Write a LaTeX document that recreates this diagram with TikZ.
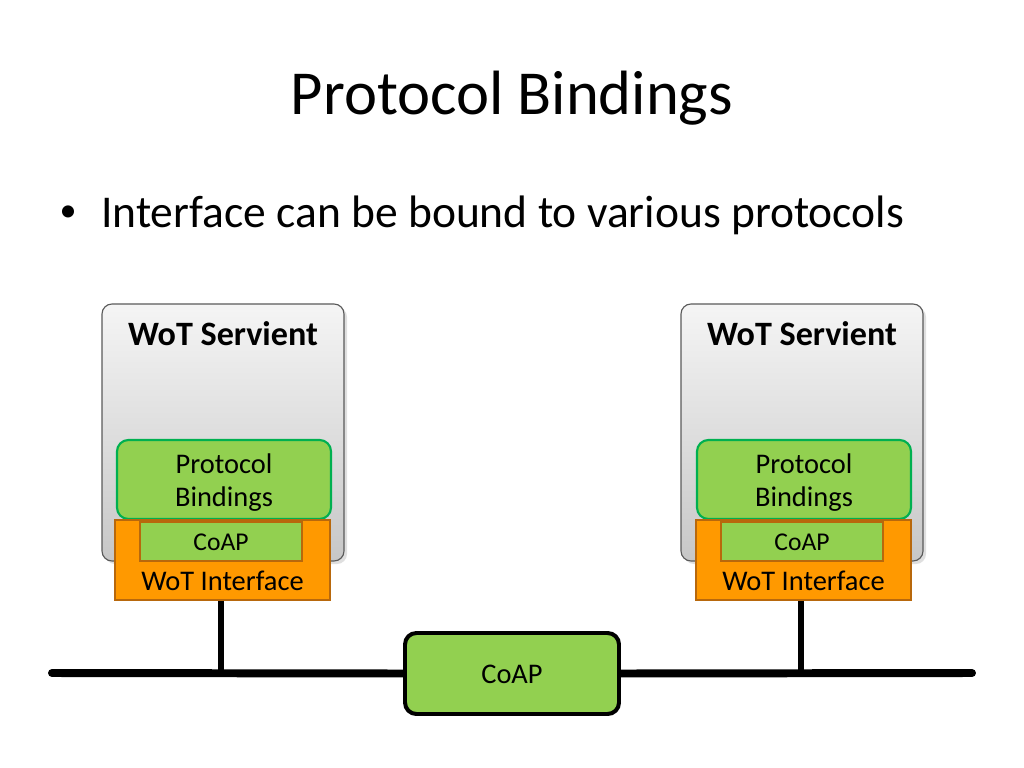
\documentclass[tikz,border=0pt]{standalone}
\usepackage{fontspec}
\setmainfont{Carlito}
\usetikzlibrary{fit}
\definecolor{lgreen}{HTML}{92D050}
\definecolor{dgreen}{HTML}{00B050}
\definecolor{orng}{HTML}{FF9900}
\definecolor{orngb}{HTML}{B8680C}
\definecolor{sbord}{HTML}{5A5A5A}
\tikzset{
  servbox/.style={draw=sbord, line width=0.8pt, rounded corners=7pt, inner sep=0pt,
    top color=black!4, bottom color=black!22},
  servshadow/.style={fill=black!25, rounded corners=7pt, inner sep=0pt, opacity=0.5},
  bindbox/.style={draw=dgreen, fill=lgreen, line width=1.5pt, rounded corners=8pt, inner sep=0pt},
  ifbox/.style={draw=orngb, fill=orng, line width=1.2pt, inner sep=0pt},
  icoap/.style={draw=orngb, fill=lgreen, line width=1.6pt, inner sep=0pt},
  buscoap/.style={draw=black, fill=lgreen, line width=2.8pt, rounded corners=8pt, inner sep=0pt},
  bus/.style={line width=5.6pt, line cap=round},
  drop/.style={line width=4.2pt},
  txt/.style={anchor=base, inner sep=0pt},
  bindtxt/.style={anchor=north, inner sep=0pt, align=center, font=\fontsize{20}{23.3}\selectfont},
}
\begin{document}
\begin{tikzpicture}[x=0.703125pt, y=-0.703125pt]
\useasboundingbox (0,0) rectangle (1024,768);
% title and bullet
\node[txt] (title) at (512,115) {\fontsize{44}{52}\selectfont Protocol Bindings};
\node[inner sep=0pt] (bullet) at (68,214) {\fontsize{24}{28}\selectfont\textbullet};
\node[txt, anchor=base west] (btext) at (101,228) {\fontsize{32}{38}\selectfont Interface can be bound to various protocols};

% left servient
\node[servshadow, fit={(105,307) (347,564)}] (s1sh) {};
\node[servbox, fit={(102,304) (344,561)}] (s1) {};
\node[txt] (s1t) at (223,345) {\fontsize{24}{28}\selectfont\bfseries WoT Servient};
\node[bindbox, fit={(117,440) (331,519)}] (b1) {};
\node[bindtxt] (b1t) at (224,453) {Protocol\\Bindings};
\node[ifbox, fit={(115,520) (330,600)}] (i1) {};
\node[icoap, fit={(140,522) (302,561)}] (c1) {};
\node[txt] (c1t) at (221,550) {\fontsize{18}{21}\selectfont CoAP};
\node[txt] (i1t) at (222.5,590) {\fontsize{20}{24}\selectfont WoT Interface};

% right servient
\node[servshadow, fit={(684,307) (926,564)}] (s2sh) {};
\node[servbox, fit={(681,304) (923,561)}] (s2) {};
\node[txt] (s2t) at (802,345) {\fontsize{24}{28}\selectfont\bfseries WoT Servient};
\node[bindbox, fit={(697,440) (911,519)}] (b2) {};
\node[bindtxt] (b2t) at (804,453) {Protocol\\Bindings};
\node[ifbox, fit={(696,520) (911,600)}] (i2) {};
\node[icoap, fit={(721,522) (883,561)}] (c2) {};
\node[txt] (c2t) at (802,550) {\fontsize{18}{21}\selectfont CoAP};
\node[txt] (i2t) at (803.5,590) {\fontsize{20}{24}\selectfont WoT Interface};

% bus
\coordinate (busL) at (52,673);
\coordinate (busR) at (972,673);
\node[buscoap, fit={(405,633) (619,714)}] (bc) {};
\node[txt] (bct) at (512,683) {\fontsize{20}{24}\selectfont CoAP};
\draw[bus] (busL) -- (bc.west);
\draw[bus] (bc.east) -- (busR);
\draw[drop] (i1.south -| 221,0) -- (221,673);
\draw[drop] (i2.south -| 801,0) -- (801,673);
\end{tikzpicture}
\end{document}
